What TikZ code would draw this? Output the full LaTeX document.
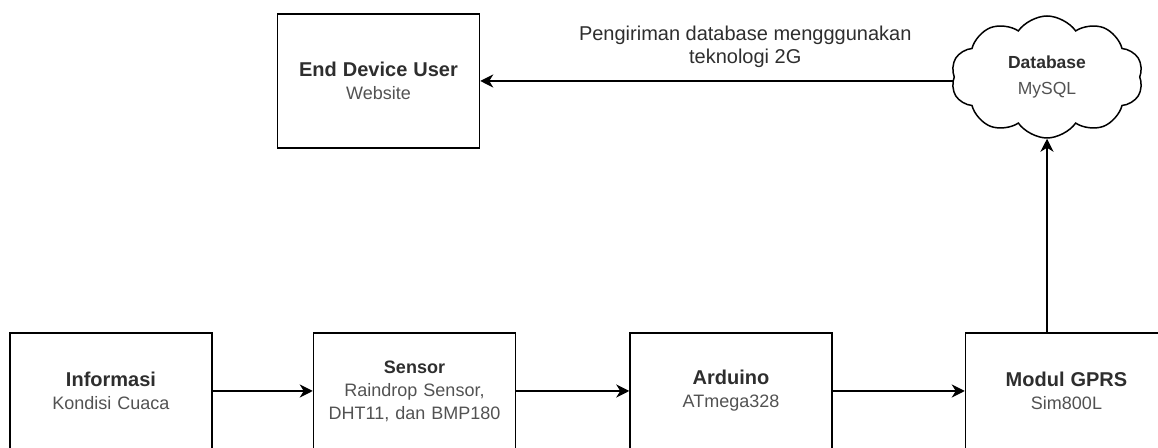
\documentclass[tikz,border=0pt]{standalone}
\usepackage{fontspec,xcolor,tikz}
\setmainfont{Liberation Sans}
\usetikzlibrary{positioning, arrows.meta, shapes}

\newcommand{\blocktitle}[1]{{\fontsize{10}{12}\selectfont\bfseries\color{black!82}#1}}

\begin{document}
\begin{tikzpicture}[
        x=1pt, y=1pt,
        node distance=50pt and 50pt,
        box/.style={draw, line width=0.75pt, text width=95pt, align=center, minimum width=101pt, minimum height=58pt, inner sep=0pt, text=black!68, font=\fontsize{9}{11.5}\selectfont},
        dbcloud/.style={draw, cloud, cloud puffs=10, cloud puff arc=110, aspect=1.6, line width=0.75pt, minimum width=96pt, minimum height=61pt, inner sep=0pt, align=center, text=black!68, font=\fontsize{8.75}{13}\selectfont},
        arrow/.style={draw, line width=0.75pt, -{Stealth[length=6.5pt, width=6.5pt, inset=2pt]}}
    ]
    \useasboundingbox (0,0) rectangle (579,-224);

    % Blok utama
    \node (info) [box] at (55.5,-195.5) {\blocktitle{Informasi}\\Kondisi Cuaca};

    \node (sensor) [box, right=50pt of info] {{\fontsize{9}{11.5}\selectfont\bfseries\color{black!82}Sensor}\\Raindrop Sensor,\\DHT11, dan BMP180};

    \node (arduino) [box, right=56.5pt of sensor] {\blocktitle{Arduino}\\ATmega328};

    \node (gprs) [box, right=66pt of arduino] {\blocktitle{Modul GPRS}\\Sim800L};

    \node (enddev) [box, minimum height=67pt] at (189.25,-40.5) {\blocktitle{End Device User}\\Website};

    \node (db) [dbcloud] at (523.5,-38.5) {{\fontsize{8.75}{13}\selectfont\bfseries\color{black!82}Database}\\MySQL};

    % Alur data
    \draw[arrow] (info) -- (sensor);
    \draw[arrow] (sensor) -- (arduino);
    \draw[arrow] (arduino) -- (gprs);
    \draw[arrow] (gprs.north -| db.south) -- (db.south);
    \draw[arrow] (db.west |- enddev) -- node[pos=0.44, above=3pt, align=center, text=black!82, font=\fontsize{10}{11.5}\selectfont] {Pengiriman database mengggunakan\\teknologi 2G} (enddev.east);

\end{tikzpicture}
\end{document}
